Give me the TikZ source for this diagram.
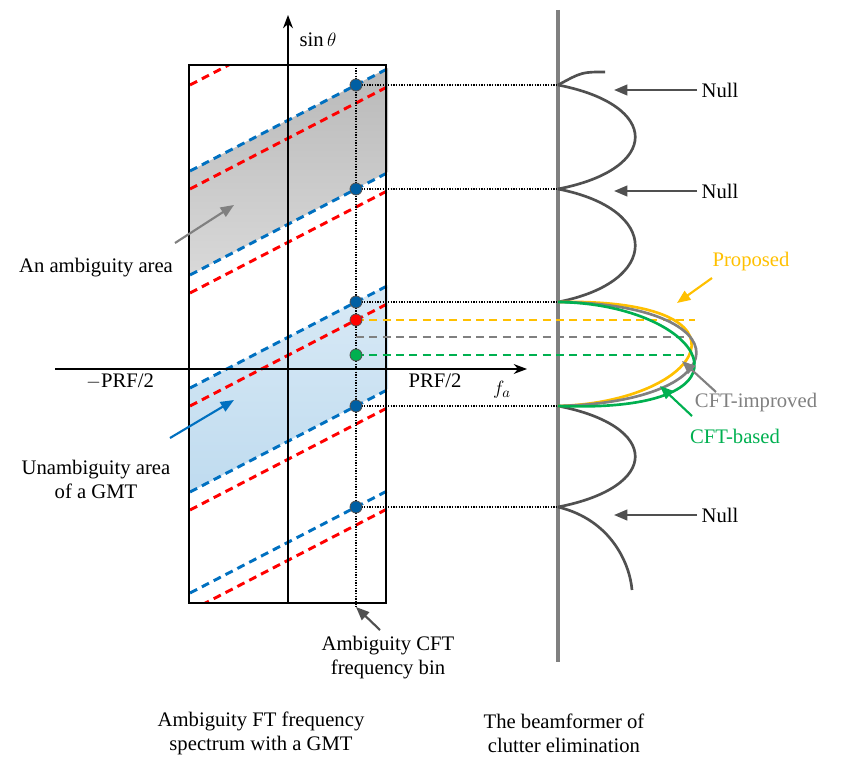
\documentclass[tikz,border=0pt]{standalone}
\usepackage{fontspec}
\setmainfont{Liberation Serif}
\usetikzlibrary{arrows.meta}
\definecolor{bl}{RGB}{0,112,192}
\definecolor{rd}{RGB}{255,0,0}
\definecolor{yl}{RGB}{255,192,0}
\definecolor{gr}{RGB}{0,176,80}
\definecolor{gy}{RGB}{128,128,128}
\definecolor{dg}{RGB}{80,80,80}
\begin{document}
\begin{tikzpicture}[x=0.75pt,y=-0.75pt,
  dl/.style={line width=2.2pt,dash pattern=on 6pt off 4pt},
  dot/.style={circle,draw=dg,line width=0.6pt,minimum size=9pt,inner sep=0pt},
  hd/.style={densely dotted,line width=1pt},
  cd/.style={line width=2pt,dash pattern=on 6pt off 4pt},
  lbl/.style={font=\fontsize{15.5}{18}\selectfont,align=center},
  ar/.style={line width=1.6pt,-{Triangle[length=10pt,width=8pt]}},
  lobe/.style={line width=2pt,dg}]
\useasboundingbox (0,0) rectangle (841,770);
% fills
\shade[top color=gray!55,bottom color=gray!30] (190,171) -- (388,68) -- (388,172) -- (190,275) -- cycle;
\shade[top color=bl!15,bottom color=bl!25] (190,388) -- (388,285) -- (388,389) -- (190,492) -- cycle;
% dashed lines
\begin{scope}
\clip (189,65) rectangle (388,603);
\foreach \y in {85,189,302,406,507}{\draw[dl,bl] (190,\y+86) -- (388,\y-16.5);}
\foreach \y in {-1,103,207,320,424,525}{\draw[dl,rd] (190,\y+86) -- (388,\y-16.5);}
\end{scope}
% box, axes
\draw[line width=1.2pt] (189,65) rectangle (386,603);
\coordinate (ab) at (288,603); \coordinate (at) at (288,15);
\draw[line width=1pt,-{Stealth[length=10pt]}] (ab) -- (at);
\coordinate (hl) at (55,369); \coordinate (hr) at (527,369);
\draw[line width=1pt,-{Stealth[length=10pt]}] (hl) -- (hr);
\node[lbl] (sin) at (318,40) {$\sin\theta$};
\node[lbl] (fa) at (502,390) {$f_a$};
\node[lbl] (mp) at (120,381) {$-$PRF/2};
\node[lbl] (pp) at (435,381) {PRF/2};
% vertical dotted
\coordinate (vt) at (356,65); \coordinate (vb) at (356,607);
\draw[hd] (vt) -- (vb);
% beamformer line
\coordinate (bt) at (558,10); \coordinate (bb) at (558,662);
\draw[line width=3pt,gy] (bt) -- (bb);
% horizontal links
\foreach \y/\n in {85/a,189/b,302/c,406/d,507/e}{
  \coordinate (r\n) at (558,\y);
  \draw[hd] (356,\y) -- (r\n);}
\coordinate (yr) at (695,320); \coordinate (gr) at (690,337); \coordinate (grr) at (690,355);
\draw[cd,yl] (356,320) -- (yr);
\draw[cd,gy] (356,337) -- (gr);
\draw[cd,gr] (356,355) -- (grr);
% dots
\foreach \y/\n in {85/a,189/b,302/c,406/d,507/e}{\node[dot,fill=bl!85!black] (d\n) at (356,\y) {};}
\node[dot,fill=rd] (dr) at (356,320) {};
\node[dot,fill=gr] (dgn) at (356,355) {};
% lobes
\draw[lobe] (ra) .. controls (582,72) .. (605,72);
\draw[lobe] (ra) .. controls (661,105) and (661,169) .. (rb);
\draw[lobe] (rb) .. controls (661,209) and (661,282) .. (rc);
\draw[lobe] (rd) .. controls (661,426) and (661,487) .. (re);
\draw[lobe] (re) .. controls (612,520) and (630,565) .. (632,590);
\draw[line width=2pt,yl] (rc) .. controls (765,298) and (705,402) .. (rd);
\draw[line width=2pt,gy] (rc) .. controls (745,304) and (740,402) .. (rd);
\draw[line width=2pt,gr] (rc) .. controls (705,304) and (772,414) .. (rd);
% Null labels
\foreach \y/\n in {90/1,191/2,515/3}{
  \node[lbl,anchor=west] (n\n) at (697,\y) {Null};
  \coordinate (nt\n) at (614,\y);
  \draw[ar,dg] (n\n.west) -- (nt\n);}
\node[lbl,text=yl] (prop) at (751,262) {Proposed};
\coordinate (pt) at (677,303);
\draw[ar,yl] (712,278) -- (pt);
\node[lbl,text=gy] (cfti) at (756,403) {CFT-improved};
\coordinate (it) at (682,361);
\draw[ar,gy] (716,392) -- (it);
\node[lbl,text=gr] (cftb) at (735,436) {CFT-based};
\coordinate (bt2) at (660,386);
\draw[ar,gr] (692,416) -- (bt2);
% left labels
\node[lbl] (amb) at (96,268) {An ambiguity area};
\coordinate (amt) at (234,205);
\draw[ar,gy] (175,243) -- (amt);
\node[lbl] (unamb) at (96,479) {Unambiguity area\\of a GMT};
\coordinate (umt) at (234,400);
\draw[ar,bl] (170,438) -- (umt);
\node[lbl] (cftbin) at (388,658) {Ambiguity CFT\\frequency bin};
\draw[ar,dg] (380,630) -- (vb);
\node[lbl] (ftl) at (261,733) {Ambiguity FT frequency\\spectrum with a GMT};
\node[lbl] (bfl) at (564,733) {The beamformer of\\clutter elimination};
\end{tikzpicture}
\end{document}
